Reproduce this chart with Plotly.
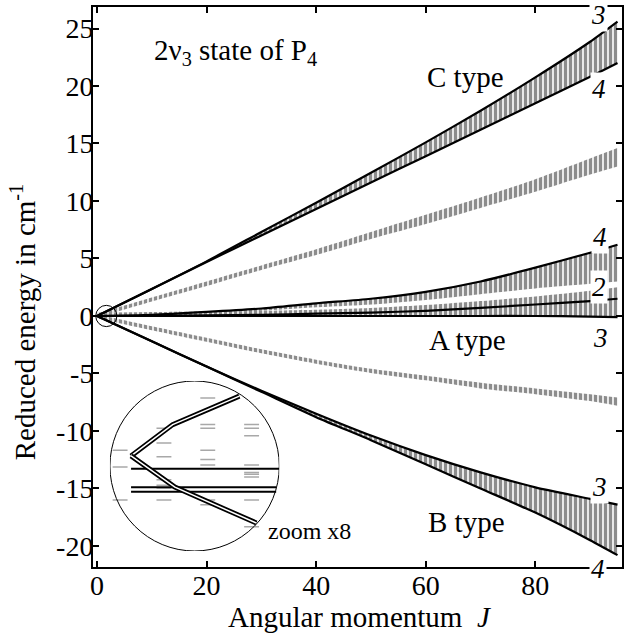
import plotly.graph_objects as go

# ---------------- data ----------------
J_pts = [0, 10, 20, 30, 40, 50, 60, 70, 80, 90, 95]

# C type cluster: envelope lines "3" (upper) and "4" (lower)
C_up = [0, 2.35, 4.75, 7.3, 9.85, 12.45, 15.1, 17.85, 20.75, 23.85, 25.6]
C_lo = [0, 2.35, 4.7, 7.0, 9.3, 11.6, 13.9, 16.2, 18.5, 20.8, 22.0]

# gray cluster between C and A types
M1_up = [0.2, 1.6, 3.0, 4.4, 5.8, 7.3, 8.8, 10.3, 11.9, 13.7, 14.6]
M1_lo = [-0.15, 1.25, 2.6, 4.0, 5.3, 6.7, 8.0, 9.4, 10.8, 12.3, 13.0]

# A type region: line "4", line "2", line "3"
A4_line = [0, 0.1, 0.35, 0.65, 1.1, 1.5, 2.1, 3.0, 4.2, 5.5, 6.2]
A1_lo = [0, 0.1, 0.3, 0.45, 0.75, 1.0, 1.4, 1.9, 2.4, 2.8, 3.0]
A2_line = [0, 0.02, 0.05, 0.1, 0.2, 0.3, 0.45, 0.7, 1.0, 1.3, 1.5]
A2_up = [0.3, 0.35, 0.4, 0.45, 0.55, 0.7, 0.95, 1.3, 1.7, 2.2, 2.5]
A2_lo = [0, 0, 0, 0, 0, 0, 0, 0, 0, 0, 0]
A3_line = [0, 0, 0, 0, 0, 0, 0, 0, 0, -0.05, -0.1]

# gray cluster between A and B types
M2_up = [0.15, -0.9, -1.9, -2.9, -3.8, -4.6, -5.2, -5.8, -6.3, -6.8, -7.1]
M2_lo = [-0.2, -1.25, -2.25, -3.25, -4.15, -4.95, -5.6, -6.3, -6.8, -7.4, -7.8]

# B type cluster: "3" (upper) and "4" (lower)
B_up = [0, -2.2, -4.4, -6.5, -8.5, -10.4, -12.1, -13.6, -14.9, -15.9, -16.4]
B_lo = [0, -2.2, -4.4, -6.6, -8.8, -10.8, -12.9, -15.0, -17.1, -19.5, -20.8]

# inset (zoom x8 around J ~ 1.7, E ~ 0)
inset_center = [1.7, 0.0]
inset_upper_J = [0.25, 1.2, 2.72]
inset_upper_E = [0.11, 0.45, 0.76]
inset_lower_J = [0.25, 1.25, 3.11]
inset_lower_E = [0.11, -0.23, -0.62]
inset_hline_E = [-0.03, -0.23, -0.28]
inset_hline_J0 = [0.25, 0.25, 0.25]
inset_hline_J1 = [3.63, 3.56, 3.56]
inset_level_J = [0, 0, 0,
                 1, 1, 1, 1, 1, 1, 1,
                 2, 2, 2, 2, 2, 2, 2, 2,
                 3, 3, 3, 3, 3, 3, 3, 3, 3]
inset_level_E = [0.17, -0.01, -0.37,
                 0.41, 0.25, 0.10, -0.15, -0.21, -0.24, -0.37,
                 0.74, 0.45, 0.41, 0.17, 0.07, 0.01, -0.37, -0.42,
                 0.45, 0.41, 0.33, 0.01, -0.07, -0.09, -0.12, -0.37, -0.66]

x_ticks = [0, 20, 40, 60, 80]
y_ticks = [-20, -15, -10, -5, 0, 5, 10, 15, 20, 25]
y_ticktext = ["-20", "-15", "-10", "-5", "0", "5", "10", "15", "20", "25"]

# right-side labels (text, x px, y px)
right_labels = [("3", 600, 15), ("4", 601, 89), ("4", 602, 237), ("2", 601, 287),
                ("3", 602, 338), ("3", 601, 487), ("4", 600, 569)]

# ---------------- figure ----------------
W, H = 624, 637
ML, MR, MT, MB = 93, 0, 7, 70
PW, PH = W - ML - MR, H - MT - MB
GRAY = "#8c8c8c"
FONT = "Liberation Serif, Times New Roman, Times, serif"
XR = [-0.73, 95.82]
YR = [-21.83, 26.87]
LSHAPE = dict(shape="spline", smoothing=0.7)

fig = go.Figure()


def band(lo, up):
    fig.add_trace(go.Scatter(x=J_pts, y=lo, mode="lines", line=dict(width=0, **LSHAPE),
                             hoverinfo="skip", showlegend=False))
    fig.add_trace(go.Scatter(x=J_pts, y=up, mode="lines", line=dict(width=0, **LSHAPE),
                             fill="tonexty", fillcolor="rgba(0,0,0,0)",
                             fillpattern=dict(shape="|", fgcolor=GRAY, bgcolor="rgba(0,0,0,0)",
                                              fgopacity=1, size=5, solidity=0.68),
                             hoverinfo="skip", showlegend=False))


band(C_lo, C_up)
band(M1_lo, M1_up)
band(A1_lo, A4_line)
band(A2_lo, A2_up)
band(M2_lo, M2_up)
band(B_lo, B_up)

for ys in [C_up, C_lo, A4_line, A2_line, A3_line, B_up, B_lo]:
    fig.add_trace(go.Scatter(x=J_pts, y=ys, mode="lines",
                             line=dict(color="black", width=2.2, **LSHAPE),
                             hoverinfo="skip", showlegend=False))

# inset traces
lvx, lvy = [], []
for j, e in zip(inset_level_J, inset_level_E):
    lvx += [j - 0.17, j + 0.17, None]
    lvy += [e, e, None]
fig.add_trace(go.Scatter(x=lvx, y=lvy, mode="lines", line=dict(color="#a8a8a8", width=1.5),
                         xaxis="x2", yaxis="y2", hoverinfo="skip", showlegend=False))
hx, hy = [], []
for e, j0, j1 in zip(inset_hline_E, inset_hline_J0, inset_hline_J1):
    hx += [j0, j1, None]
    hy += [e, e, None]
fig.add_trace(go.Scatter(x=hx, y=hy, mode="lines", line=dict(color="black", width=2),
                         xaxis="x2", yaxis="y2", hoverinfo="skip", showlegend=False))
for jj, ee in [(inset_upper_J, inset_upper_E), (inset_lower_J, inset_lower_E)]:
    fig.add_trace(go.Scatter(x=jj, y=ee, mode="lines", line=dict(color="black", width=5),
                             xaxis="x2", yaxis="y2", hoverinfo="skip", showlegend=False))
    fig.add_trace(go.Scatter(x=jj, y=ee, mode="lines", line=dict(color="white", width=1.5),
                             xaxis="x2", yaxis="y2", hoverinfo="skip", showlegend=False))

# inset geometry: radius 85 px, magnification 8
MAG = 8
px_per_J = PW / (XR[1] - XR[0])
px_per_E = PH / (YR[1] - YR[0])
R = 85
cx_px, cy_px = 195, 466
rJ = R / (MAG * px_per_J)
rE = R / (MAG * px_per_E)
x2_range = [inset_center[0] - rJ, inset_center[0] + rJ]
y2_range = [inset_center[1] - rE, inset_center[1] + rE]

fig.add_shape(type="circle", xref="x2", yref="y2",
              x0=x2_range[0], x1=x2_range[1], y0=y2_range[0], y1=y2_range[1],
              line=dict(color="black", width=1))
# small circle on main plot marking the zoomed region (same region, unmagnified)
fig.add_shape(type="circle", xref="x", yref="y",
              x0=x2_range[0], x1=x2_range[1], y0=y2_range[0], y1=y2_range[1],
              line=dict(color="black", width=1))

axis_common = dict(showgrid=False, zeroline=False, showline=True, linecolor="black", linewidth=2,
                   ticks="inside", ticklen=6, tickwidth=1.5, tickcolor="black", mirror="ticks",
                   tickfont=dict(family=FONT, size=28, color="black"))

fig.update_layout(
    width=W, height=H,
    margin=dict(l=ML, r=MR, t=MT, b=MB),
    paper_bgcolor="white", plot_bgcolor="rgba(0,0,0,0)",
    xaxis=dict(range=XR, tickvals=x_ticks, ticklabelstandoff=-8, **axis_common),
    yaxis=dict(range=YR, tickvals=y_ticks, ticktext=y_ticktext, ticklabelstandoff=-8, **axis_common),
    xaxis2=dict(domain=[(cx_px - R - ML) / PW, (cx_px + R - ML) / PW], range=x2_range,
                visible=False, anchor="y2"),
    yaxis2=dict(domain=[(H - MB - (cy_px + R)) / PH, (H - MB - (cy_px - R)) / PH], range=y2_range,
                visible=False, anchor="x2"),
    showlegend=False,
)


def px2paper(px, py):
    return (px - ML) / PW, (H - MB - py) / PH


annots = []
tx, ty = px2paper(152, 52)
annots.append(dict(x=tx, y=ty, xref="paper", yref="paper", xanchor="left", yanchor="middle",
                   text="2ν<sub>3</sub> state of P<sub>4</sub>", showarrow=False,
                   font=dict(family=FONT, size=29, color="black")))
for txt, px, py in [("C type", 467, 77), ("A type", 469, 340), ("B type", 468, 522)]:
    tx, ty = px2paper(px, py)
    annots.append(dict(x=tx, y=ty, xref="paper", yref="paper", xanchor="center", yanchor="middle",
                       text=txt, showarrow=False, font=dict(family=FONT, size=29, color="black")))
tx, ty = px2paper(310, 531)
annots.append(dict(x=tx, y=ty, xref="paper", yref="paper", xanchor="center", yanchor="middle",
                   text="zoom x8", showarrow=False, font=dict(family=FONT, size=24, color="black")))
for txt, px, py in right_labels:
    tx, ty = px2paper(px, py)
    annots.append(dict(x=tx, y=ty, xref="paper", yref="paper", xanchor="center", yanchor="middle",
                       text="<i>" + txt + "</i>", showarrow=False, bgcolor="white", borderpad=1,
                       font=dict(family=FONT, size=27, color="black")))
tx, ty = px2paper(361, 617)
annots.append(dict(x=tx, y=ty, xref="paper", yref="paper", xanchor="center", yanchor="middle",
                   text="Angular momentum\u00a0 <i>J</i>", showarrow=False,
                   font=dict(family=FONT, size=29, color="black")))
tx, ty = px2paper(23, 322)
annots.append(dict(x=tx, y=ty, xref="paper", yref="paper", xanchor="center", yanchor="middle",
                   text="Reduced energy in cm<sup>-1</sup>", textangle=-90, showarrow=False,
                   font=dict(family=FONT, size=29, color="black")))
fig.update_layout(annotations=annots)

fig.write_html("out.html")
